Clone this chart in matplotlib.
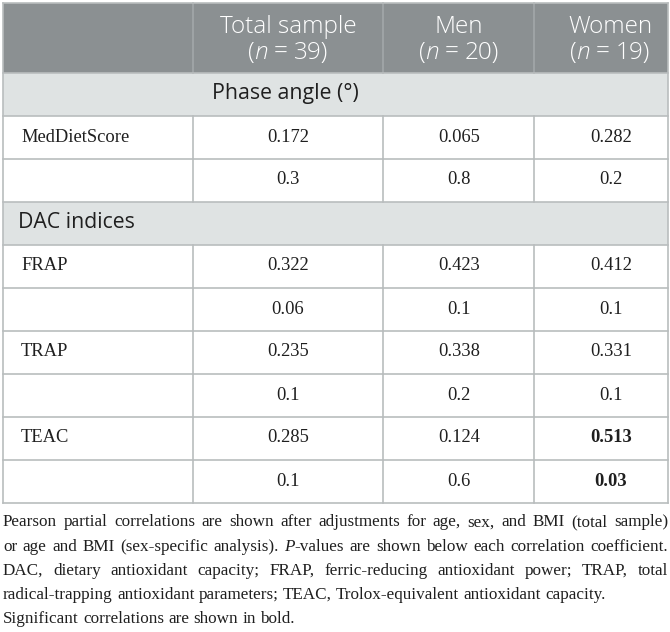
import matplotlib
matplotlib.use("Agg")
import matplotlib.pyplot as plt
from matplotlib.patches import Rectangle

# ---- table content ----
col_titles = ["Total sample", "Men", "Women"]
col_n = ["39", "20", "19"]

sections = ["Phase angle (°)", "DAC indices"]
section_rows = [["MedDietScore"], ["FRAP", "TRAP", "TEAC"]]

r_values = {
    "MedDietScore": [0.172, 0.065, 0.282],
    "FRAP": [0.322, 0.423, 0.412],
    "TRAP": [0.235, 0.338, 0.331],
    "TEAC": [0.285, 0.124, 0.513],
}
p_values = {
    "MedDietScore": ["0.3", "0.8", "0.2"],
    "FRAP": ["0.06", "0.1", "0.1"],
    "TRAP": ["0.1", "0.2", "0.1"],
    "TEAC": ["0.1", "0.6", "0.03"],
}
bold_cells = {("TEAC", 2)}

footnote = [
    "Pearson partial correlations are shown after adjustments for age, sex, and BMI (total sample)",
    "or age and BMI (sex-specific analysis). *P*-values are shown below each correlation coefficient.",
    "DAC, dietary antioxidant capacity; FRAP, ferric-reducing antioxidant power; TRAP, total",
    "radical-trapping antioxidant parameters; TEAC, Trolox-equivalent antioxidant capacity.",
    "Significant correlations are shown in bold.",
]
justified = [True, True, True, False, False]

# ---- layout (pixels) ----
W, H = 670, 632
left, right = 3, 668
col_edges = [left, 193, 383, 534, right]
col_centers = [288, 459, 611]
top = 3
header_h = 69.5
row_h = 43

header_bg = "#8b9092"
section_bg = "#dfe3e3"
line_col = "#b9bdbe"
text_col = "#1f1f1f"
sans = "Open Sans"
serif = "Liberation Serif"
body_fs = 13.3
head_fs = 17.5
sec_fs = 15.3
foot_fs = 12.3

fig = plt.figure(figsize=(W / 100, H / 100), dpi=100)
ax = fig.add_axes([0, 0, 1, 1])
ax.set_xlim(0, W)
ax.set_ylim(H, 0)
ax.axis("off")
fig.canvas.draw()
renderer = fig.canvas.get_renderer()


def width_of(t):
    return t.get_window_extent(renderer).width


def space_width(**kw):
    a = ax.text(W / 2, H / 2, "a a", **kw)
    b = ax.text(W / 2, H / 2, "aa", **kw)
    w = width_of(a) - width_of(b)
    a.remove()
    b.remove()
    return w


def draw_runs(runs, x, y, **kw):
    """runs: list of (text, style dict), centred as one line at x."""
    sp = space_width(family=kw.get("family"), fontsize=kw.get("fontsize"))
    objs = []
    for s, st in runs:
        objs.append(ax.text(x, y, s, va="center", ha="left", **{**kw, **st}))
    widths = [width_of(t) for t in objs]
    total = sum(widths) + 2 * sp
    cx = x - total / 2
    for i, (t, w) in enumerate(zip(objs, widths)):
        t.set_x(cx)
        cx += w
        if i in (1, 2):
            cx += sp


# header
ax.add_patch(Rectangle((left, top), right - left, header_h, color=header_bg, lw=0))
for xe in col_edges[1:-1]:
    ax.plot([xe, xe], [top, top + header_h], color="#a3a8aa", lw=1.2)
for i, (title, n) in enumerate(zip(col_titles, col_n)):
    cx = col_centers[i] if i < 2 else 610
    ax.text(cx, top + 24, title, ha="center", va="center", color="white",
            family=sans, fontweight="light", fontsize=head_fs)
    draw_runs([("(", {}), ("n", {"style": "italic"}), ("=", {}), (n + ")", {})],
              cx, top + 50, color="white", family=sans,
              fontweight="light", fontsize=head_fs)

# body rows
y = top + header_h
for sec, names in zip(sections, section_rows):
    ax.add_patch(Rectangle((left, y), right - left, row_h, color=section_bg, lw=0))
    if sec.startswith("Phase"):
        ax.text(285, y + row_h / 2, sec, ha="center", va="center",
                family=sans, fontsize=sec_fs, color=text_col)
    else:
        ax.text(18, y + row_h / 2, sec, ha="left", va="center",
                family=sans, fontsize=sec_fs, color=text_col)
    ax.plot([left, right], [y, y], color=line_col, lw=1.2)
    y += row_h
    for name in names:
        for k, vals in enumerate([[f"{v:.3f}" for v in r_values[name]], p_values[name]]):
            ax.plot([left, right], [y, y], color=line_col, lw=1.2)
            for xe in col_edges[1:-1]:
                ax.plot([xe, xe], [y, y + row_h], color=line_col, lw=1.2)
            if k == 0:
                ax.text(21, y + row_h / 2, name, ha="left", va="center",
                        family=serif, fontsize=body_fs, color=text_col)
            for j, v in enumerate(vals):
                ax.text(col_centers[j], y + row_h / 2, v, ha="center", va="center",
                        family=serif, fontsize=body_fs, color=text_col,
                        fontweight="bold" if (name, j) in bold_cells else "normal")
            y += row_h
bottom = y
ax.plot([left, right], [bottom, bottom], color=line_col, lw=1.2)
ax.plot([left, left], [top, bottom], color=line_col, lw=1.2)
ax.plot([right, right], [top, bottom], color=line_col, lw=1.2)
ax.plot([left, right], [top, top], color=line_col, lw=1.2)

# footnote, justified like the journal layout
sp_w = space_width(family=serif, fontsize=foot_fs)
ly = bottom + 20
for line, just in zip(footnote, justified):
    words = []
    for w in line.split(" "):
        if w.startswith("*P*"):
            runs = [("P", {"style": "italic"}), (w[3:], {})]
        else:
            runs = [(w, {})]
        objs = [ax.text(left, ly, s, va="center", ha="left", family=serif,
                        fontsize=foot_fs, color=text_col, **st) for s, st in runs]
        words.append((objs, [width_of(o) for o in objs]))
    total = sum(sum(ws) for _, ws in words)
    gap = (right - left - total) / (len(words) - 1) if just else sp_w
    x = left
    for objs, ws in words:
        for o, w in zip(objs, ws):
            o.set_x(x)
            x += w
        x += gap
    ly += 24.2

fig.savefig("out.png", dpi=100)
